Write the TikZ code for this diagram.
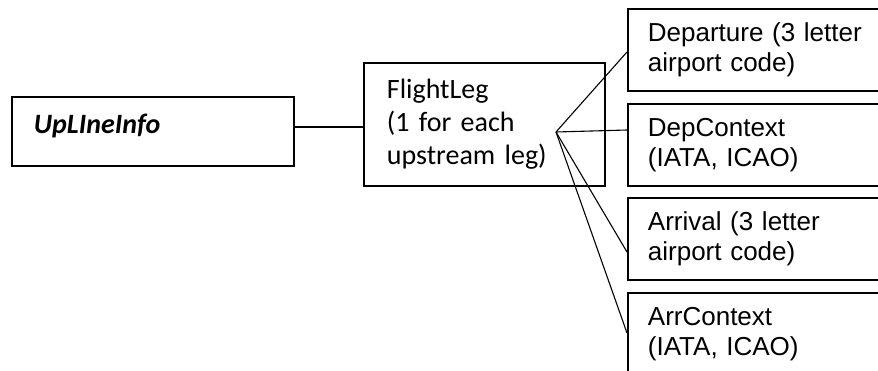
\documentclass[tikz,border=0pt]{standalone}
\usepackage{fontspec}
\setmainfont{Carlito}
\newfontfamily\arialfont{Liberation Sans}
\usetikzlibrary{calc}
\begin{document}
\begin{tikzpicture}[x=1pt,y=-1pt,
  box/.style={draw=black, line width=1.8pt, rectangle, anchor=north west, inner ysep=0pt},
  calbox/.style={box, font=\fontsize{28}{33}\selectfont, align=left},
  arbox/.style={box, font=\arialfont\fontsize{26}{29.5}\selectfont, align=left,
     minimum width=280pt, minimum height=82pt, inner xsep=20pt, text width=240pt},
  link/.style={draw=black, line width=1.1pt},
  mainlink/.style={draw=black, line width=1.5pt}]
\useasboundingbox (0,0) rectangle (878,371);
\node[calbox, minimum width=282pt, minimum height=69pt, inner xsep=22pt, text width=238pt,
      text height=20pt, text depth=15pt] (up) at (11,96) {\textbf{\textit{UpLIneInfo}}};
\node[calbox, minimum width=241pt, minimum height=123pt, inner xsep=23pt, text width=195pt] (fl) at (363,62)
  {FlightLeg\\(1 for each\\upstream leg)};
\node[arbox] (dep) at (627,8) {Departure (3 letter\\airport code)};
\node[arbox] (depc) at (627,103) {DepContext\\(IATA, ICAO)};
\node[arbox] (arr) at (627,197) {Arrival (3 letter\\airport code)};
\node[arbox] (arrc) at (627,292) {ArrContext\\(IATA, ICAO)};
\coordinate (hub) at (556,132);
\coordinate (c1) at ($(up.north east)+(0,31)$);
\draw[mainlink] (c1) -- (c1 -| fl.west);
\draw[link] (hub) -- ($(dep.north west)+(0,44)$);
\draw[link] (hub) -- ($(depc.north west)+(0,27)$);
\draw[link] (hub) -- ($(arr.north west)+(0,55)$);
\draw[link] (hub) -- ($(arrc.north west)+(0,41)$);
\end{tikzpicture}
\end{document}
